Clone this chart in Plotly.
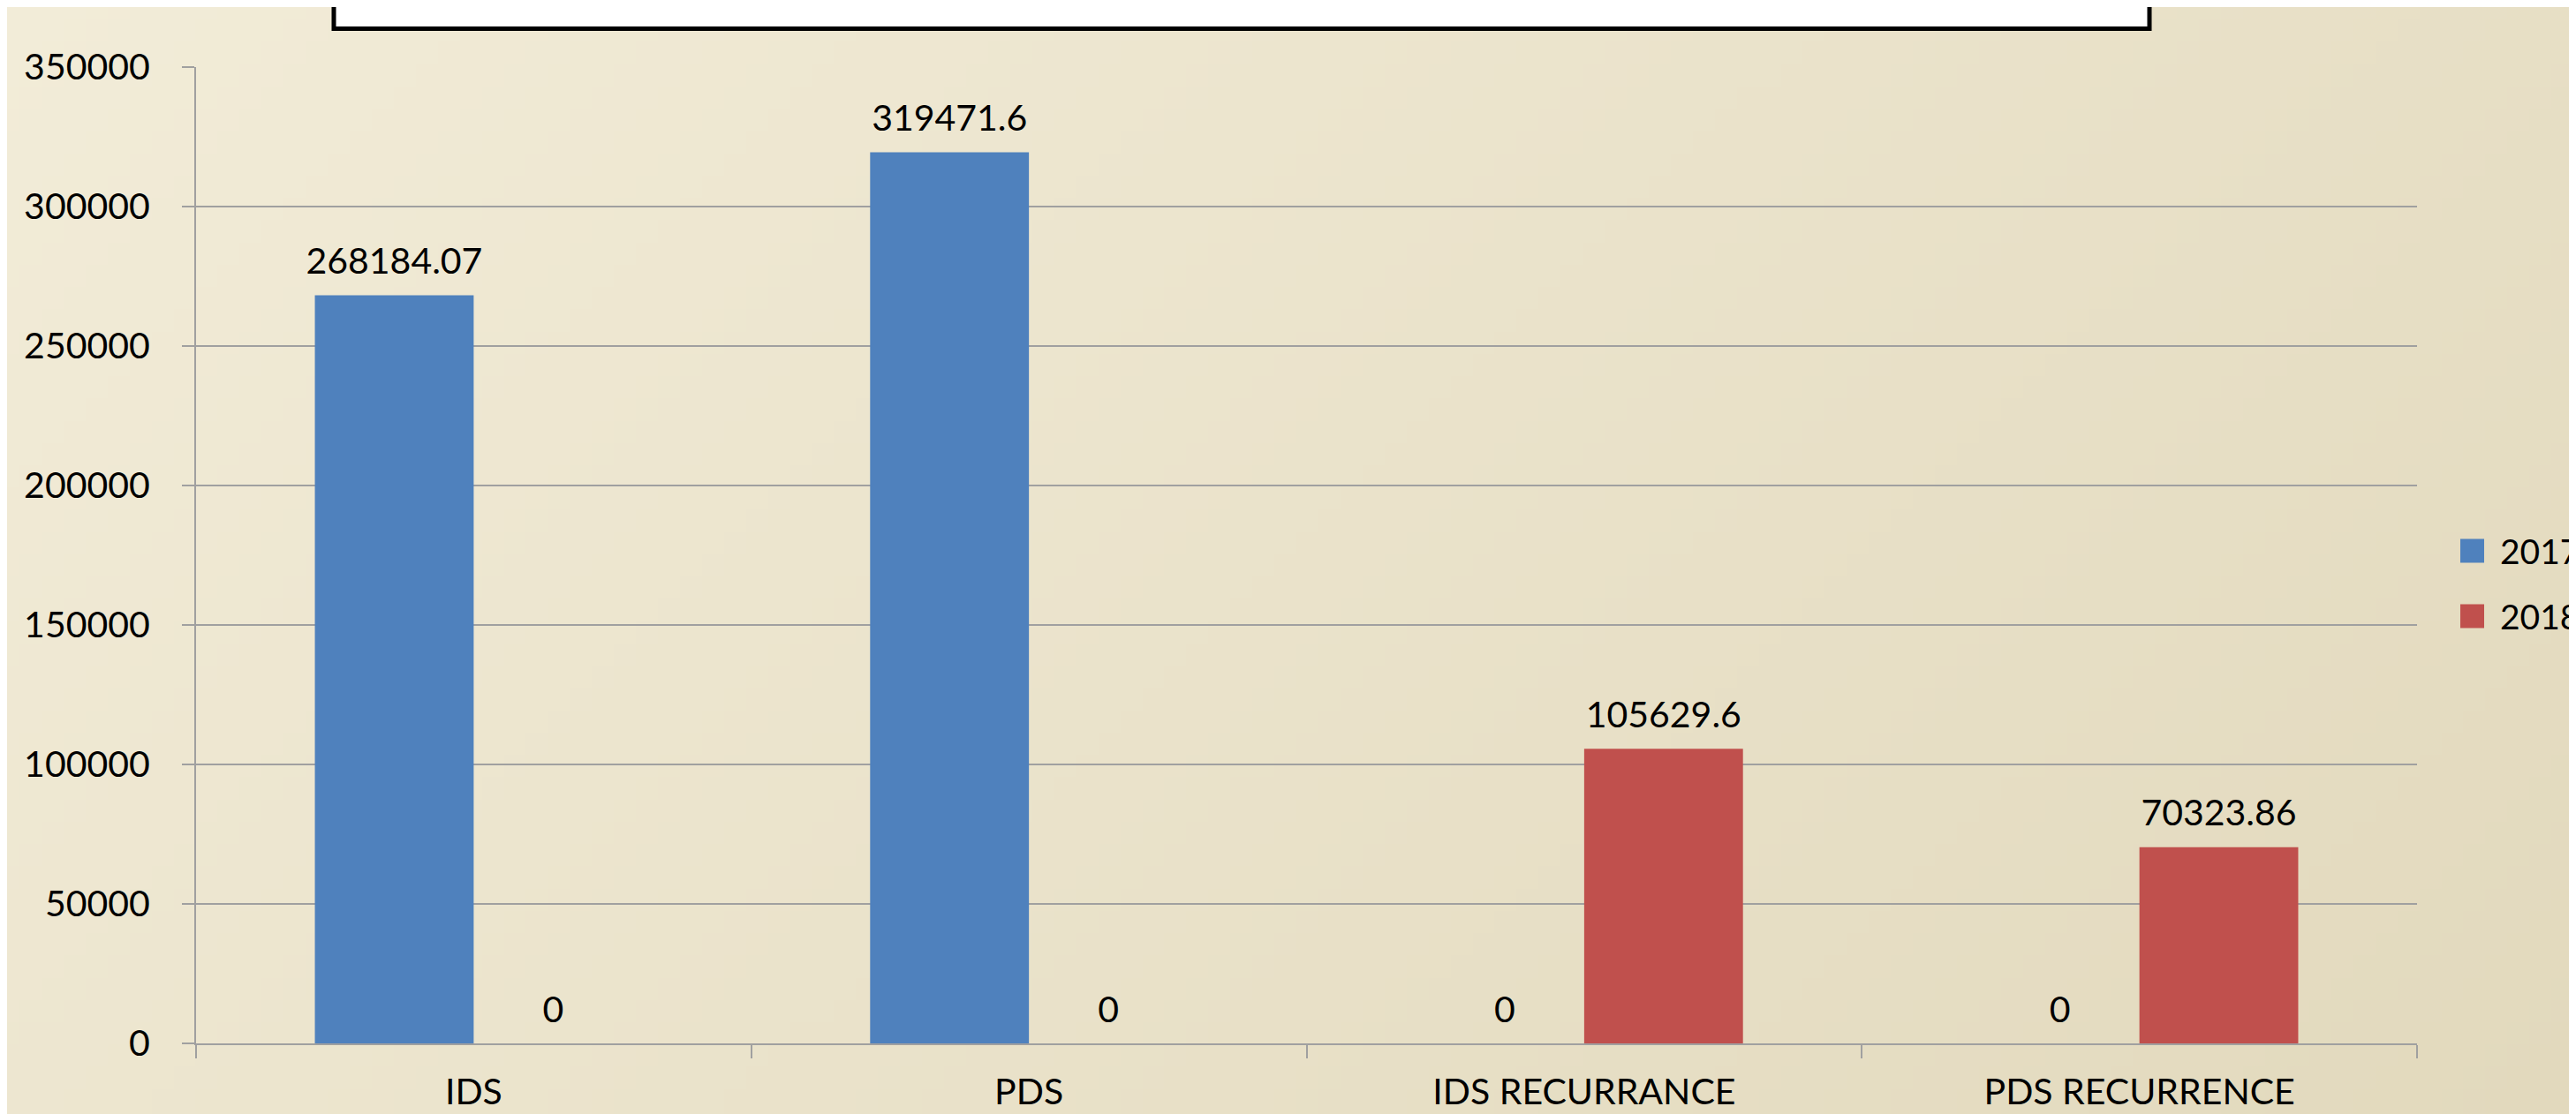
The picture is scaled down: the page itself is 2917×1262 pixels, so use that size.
import base64
import struct
import zlib

import numpy as np
import plotly.graph_objects as go

# ---------------- data ----------------
categories = ["IDS", "PDS", "IDS RECURRANCE", "PDS RECURRENCE"]
series_names = ["2017", "2018"]
values_2017 = [268184.07, 319471.6, 0, 0]
values_2018 = [0, 0, 105629.6, 70323.86]
labels_2017 = ["268184.07", "319471.6", "0", "0"]
labels_2018 = ["0", "0", "105629.6", "70323.86"]
y_tick_values = [0, 50000, 100000, 150000, 200000, 250000, 300000, 350000]
colors = ["#4F81BD", "#C0504D"]

# ---------------- geometry ----------------
W, H = 2917, 1262
M_L, M_R, M_T, M_B = 214, 188, 68, 88
PW = W - M_L - M_R
PH = H - M_T - M_B
FONT = "Lato, 'Open Sans', sans-serif"
FS = 41


def px_to_paper_x(px):
    return (px - M_L) / PW


def px_to_paper_y(py):
    return (H - M_B - py) / PH


# ---------------- background gradient (PNG data URI) ----------------
def make_png(w, h, rgb):
    raw = b"".join(b"\x00" + rgb[r].astype(np.uint8).tobytes() for r in range(h))

    def chunk(tag, data):
        c = struct.pack(">I", len(data)) + tag + data
        return c + struct.pack(">I", zlib.crc32(tag + data) & 0xFFFFFFFF)

    png = b"\x89PNG\r\n\x1a\n"
    png += chunk(b"IHDR", struct.pack(">IIBBBBB", w, h, 8, 2, 0, 0, 0))
    png += chunk(b"IDAT", zlib.compress(raw, 9))
    png += chunk(b"IEND", b"")
    return png


gw, gh = 117, 50
xx, yy = np.meshgrid(np.linspace(0, 1, gw), np.linspace(0, 1, gh))
t = (xx * W + yy * H) / (W + H)
c0 = np.array([242, 236, 216], dtype=float)
c1 = np.array([226, 217, 189], dtype=float)
img = c0[None, None, :] * (1 - t[..., None]) + c1[None, None, :] * t[..., None]
bg_uri = "data:image/png;base64," + base64.b64encode(make_png(gw, gh, np.round(img))).decode()

# ---------------- figure ----------------
fig = go.Figure()
for name, vals, col in zip(series_names, [values_2017, values_2018], colors):
    fig.add_trace(go.Bar(
        x=categories, y=vals, name=name, marker_color=col,
        marker_line_width=0, showlegend=False, hoverinfo="x+y+name",
    ))

for name, vals, labs in zip(series_names, [values_2017, values_2018], [labels_2017, labels_2018]):
    fig.add_trace(go.Scatter(
        x=categories, y=vals, text=labs, mode="markers+text",
        textposition="top center", offsetgroup=name, alignmentgroup="labels",
        orientation="v",
        marker=dict(size=21, opacity=0, color="rgba(0,0,0,0)"),
        textfont=dict(family=FONT, size=FS, color="black"),
        showlegend=False, hoverinfo="skip", cliponaxis=False,
    ))

# legend (drawn as swatches + text, to match the large square keys)
legend_shapes = []
legend_annots = []
LEG_SQ_X0, LEG_SQ_SIZE, LEG_TXT_RIGHT = 2778, 27, 2914
LEG_FS = 39
LEG_Y_CENTERS = [616, 690]
for name, col, yc in zip(series_names, colors, LEG_Y_CENTERS):
    legend_shapes.append(dict(
        type="rect", xref="paper", yref="paper",
        x0=px_to_paper_x(LEG_SQ_X0), x1=px_to_paper_x(LEG_SQ_X0 + LEG_SQ_SIZE),
        y0=px_to_paper_y(yc + LEG_SQ_SIZE / 2), y1=px_to_paper_y(yc - LEG_SQ_SIZE / 2),
        fillcolor=col, line=dict(width=0), layer="above",
    ))
    legend_annots.append(dict(
        text=name, xref="paper", yref="paper",
        x=px_to_paper_x(LEG_TXT_RIGHT), y=px_to_paper_y(yc),
        xanchor="right", yanchor="middle", showarrow=False, borderpad=0,
        font=dict(family=FONT, size=LEG_FS, color="black"),
    ))

grid_col = "#A0A0A0"
fig.update_layout(
    width=W, height=H,
    margin=dict(l=M_L, r=M_R, t=M_T, b=M_B, autoexpand=False),
    paper_bgcolor="rgb(234,226,203)",
    plot_bgcolor="rgba(0,0,0,0)",
    barmode="group", bargap=0.428, bargroupgap=0,
    scattermode="group", scattergap=0.428,
    font=dict(family=FONT, size=FS, color="black"),
    showlegend=False,
    xaxis=dict(
        type="category", showline=True, linecolor=grid_col, linewidth=2,
        ticks="outside", ticklen=15, tickwidth=2, tickcolor=grid_col,
        tickson="boundaries", showgrid=False, ticklabelstandoff=18,
        tickfont=dict(family=FONT, size=FS, color="black"),
    ),
    yaxis=dict(
        range=[0, 350000], tickvals=y_tick_values, tickformat="d",
        showline=True, linecolor=grid_col, linewidth=2,
        ticks="outside", ticklen=14, tickwidth=2, tickcolor=grid_col,
        showgrid=True, gridcolor=grid_col, gridwidth=2, zeroline=False,
        ticklabelstandoff=28,
        tickfont=dict(family=FONT, size=FS, color="black"),
    ),
    images=[dict(
        source=bg_uri, xref="paper", yref="paper",
        x=px_to_paper_x(0), y=px_to_paper_y(0),
        sizex=W / PW, sizey=H / PH, sizing="stretch",
        xanchor="left", yanchor="top", layer="below",
    )],
    shapes=[dict(
        type="rect", xref="paper", yref="paper",
        x0=px_to_paper_x(370), x1=px_to_paper_x(2426),
        y0=px_to_paper_y(24.5), y1=px_to_paper_y(-30),
        fillcolor="white", line=dict(color="black", width=5), layer="above",
    )] + legend_shapes,
    annotations=legend_annots,
)

fig.write_html("out.html")
